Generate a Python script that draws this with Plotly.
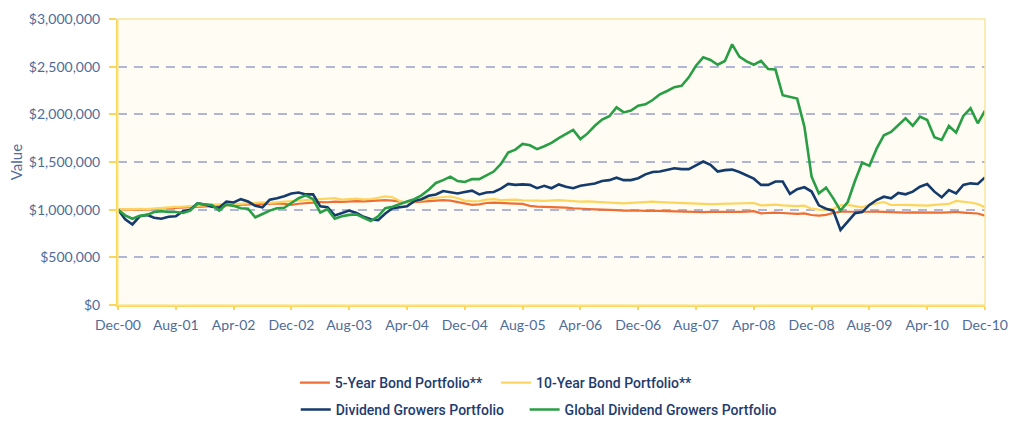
import pandas as pd
import plotly.graph_objects as go

# Month labels Dec-00 .. Dec-10 (121 monthly observations)
months = [d.strftime("%b-%y") for d in pd.date_range("2000-12-01", periods=121, freq="MS")]
tick_labels = months[::8]

# Values in $ thousands
bond5 = [1000, 1003, 1005, 1002, 1000, 1008, 1012, 1015, 1020, 1022,
         1028, 1035, 1040, 1038, 1042, 1045, 1050, 1048, 1055, 1060,
         1062, 1058, 1065, 1060, 1050, 1062, 1070, 1075, 1080, 1078,
         1085, 1082, 1088, 1090, 1086, 1092, 1095, 1100, 1095, 1085,
         1075, 1080, 1084, 1090, 1095, 1101, 1095, 1080, 1060, 1050,
         1055, 1070, 1073, 1068, 1065, 1062, 1060, 1040, 1031, 1030,
         1028, 1030, 1022, 1015, 1008, 1007, 1004, 1003, 1000, 995,
         990, 992, 991, 988, 990, 987, 985, 983, 982, 978,
         972, 975, 977, 976, 975, 978, 976, 980, 985, 962,
         968, 970, 965, 958, 956, 960, 944, 937, 945, 965,
         979, 978, 976, 975, 978, 979, 975, 970, 972, 968,
         972, 970, 968, 970, 968, 972, 976, 970, 966, 960,
         937]

bond10 = [1000, 1005, 1010, 1008, 1005, 1012, 1020, 1025, 1030, 1032,
          1035, 1040, 1048, 1050, 1055, 1060, 1062, 1060, 1068, 1075,
          1078, 1072, 1080, 1085, 1090, 1095, 1100, 1098, 1105, 1115,
          1120, 1105, 1110, 1115, 1108, 1112, 1125, 1140, 1130, 1090,
          1070, 1085, 1105, 1115, 1125, 1135, 1138, 1120, 1095, 1088,
          1090, 1105, 1110, 1100, 1102, 1105, 1098, 1100, 1095, 1092,
          1098, 1100, 1095, 1086, 1084, 1088, 1085, 1080, 1078, 1070,
          1066, 1072, 1078, 1082, 1084, 1080, 1076, 1074, 1070, 1064,
          1058, 1060, 1058, 1060, 1062, 1060, 1062, 1065, 1070, 1045,
          1050, 1052, 1045, 1040, 1038, 1042, 1010, 1000, 997, 1010,
          1045, 1050, 1040, 1025, 1050, 1067, 1080, 1049, 1052, 1050,
          1048, 1045, 1042, 1050, 1052, 1060, 1091, 1085, 1075, 1060,
          1025]

dividend = [1000, 900, 845, 930, 945, 915, 905, 925, 930, 985,
            1000, 1065, 1055, 1030, 1020, 1085, 1075, 1110, 1085, 1040,
            1025, 1105, 1120, 1140, 1170, 1180, 1160, 1160, 1035, 1025,
            940, 965, 990, 965, 925, 900, 890, 960, 1015, 1025,
            1035, 1090, 1110, 1145, 1160, 1195, 1180, 1170, 1185, 1200,
            1160, 1180, 1185, 1220, 1270, 1260, 1265, 1260, 1225, 1250,
            1225, 1265, 1240, 1225, 1250, 1260, 1275, 1300, 1310, 1335,
            1310, 1310, 1330, 1370, 1395, 1400, 1415, 1435, 1425, 1425,
            1465, 1505, 1470, 1400, 1415, 1420, 1395, 1360, 1325, 1260,
            1260, 1295, 1295, 1165, 1215, 1235, 1190, 1045, 1010, 990,
            787, 874, 962, 975, 1050, 1101, 1136, 1119, 1175, 1161,
            1189, 1241, 1269, 1189, 1129, 1206, 1171, 1259, 1276, 1269,
            1339]

global_div = [1000, 940, 905, 935, 945, 975, 985, 975, 975, 965,
              990, 1065, 1055, 1050, 990, 1055, 1040, 1015, 1010, 920,
              955, 990, 1015, 1020, 1070, 1120, 1150, 1110, 970, 1005,
              905, 930, 945, 950, 915, 880, 930, 1015, 1030, 1060,
              1085, 1110, 1150, 1210, 1280, 1310, 1346, 1300, 1290, 1320,
              1320, 1360, 1400, 1480, 1600, 1630, 1690, 1675, 1635, 1665,
              1700, 1750, 1790, 1836, 1740, 1800, 1880, 1945, 1980, 2073,
              2020, 2040, 2090, 2105, 2150, 2210, 2245, 2285, 2300, 2388,
              2510, 2598, 2570, 2520, 2560, 2734, 2605, 2555, 2520, 2560,
              2475, 2470, 2200, 2180, 2165, 1871, 1346, 1171, 1231, 1119,
              990, 1080, 1300, 1495, 1460, 1640, 1780, 1815, 1890, 1958,
              1880, 1976, 1941, 1759, 1731, 1878, 1808, 1983, 2063, 1906,
              2038]

series = [
    ("5-Year Bond Portfolio**", bond5, "#EE6F33", 2.2, "legend"),
    ("10-Year Bond Portfolio**", bond10, "#FDD55E", 2.2, "legend2"),
    ("Dividend Growers Portfolio", dividend, "#153A6C", 2.6, "legend3"),
    ("Global Dividend Growers Portfolio", global_div, "#2A9E45", 2.6, "legend4"),
]

fig = go.Figure()
for name, vals, color, width, leg in series:
    fig.add_trace(go.Scatter(
        x=months, y=[v * 1000 for v in vals], mode="lines", name=name,
        line=dict(color=color, width=width), legend=leg,
    ))

tick_font = dict(family="Lato, 'Open Sans', sans-serif", size=14, color="#4F6C98")
legend_font = dict(family="Roboto, sans-serif", size=14, color="#1E3C6E", weight=500)


def leg(x, y):
    return dict(orientation="h", x=x, xanchor="left", y=y, yanchor="middle",
                font=legend_font, bgcolor="rgba(0,0,0,0)")


fig.update_layout(
    width=1023, height=421,
    margin=dict(l=118, r=38, t=19, b=116, autoexpand=False),
    paper_bgcolor="white",
    plot_bgcolor="#FEFCF3",
    showlegend=True,
    legend=leg(0.2040, -0.2727),
    legend2=leg(0.4360, -0.2727),
    legend3=leg(0.2050, -0.367),
    legend4=leg(0.4690, -0.367),
    xaxis=dict(
        type="category", range=[0, 120],
        tickmode="array", tickvals=tick_labels, ticktext=tick_labels,
        showgrid=False, showline=True, linecolor="#FBD65C", linewidth=2,
        ticks="outside", ticklen=3, tickwidth=2, tickcolor="#FBD65C",
        tickfont=tick_font, zeroline=False, ticklabelstandoff=3,
    ),
    yaxis=dict(
        range=[0, 3000000], tickmode="array",
        tickvals=[0, 500000, 1000000, 1500000, 2000000, 2500000, 3000000],
        tickformat="$,.0f",
        showgrid=True, gridcolor="#B1B6D6", gridwidth=1.5, griddash="9px,7px",
        showline=True, linecolor="#FBD65C", linewidth=2,
        ticks="outside", ticklen=7, tickwidth=2, tickcolor="#FBD65C",
        tickfont=tick_font, zeroline=False, ticklabelstandoff=6,
        title=dict(text="Value", font=dict(family="Lato, sans-serif", size=15, color="#4F6C98"),
                   standoff=3),
    ),
    shapes=[dict(type="rect", xref="paper", yref="paper", x0=0, x1=1, y0=0, y1=1,
                 line=dict(color="#F8E6A0", width=1.5), layer="above")],
)

fig.write_html("out.html", config={"displayModeBar": False},
               post_script="document.body.style.margin='0';document.body.style.padding='0';")
